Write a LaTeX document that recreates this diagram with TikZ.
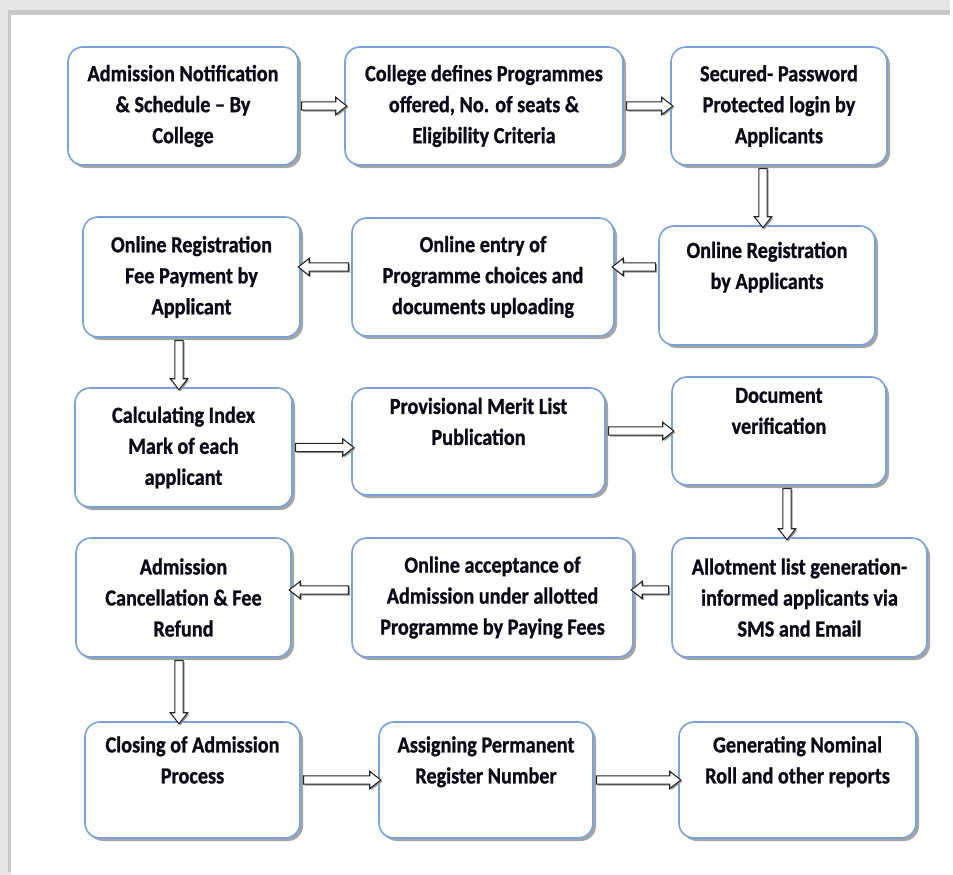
\documentclass[tikz,border=0pt]{standalone}
\usepackage{fontspec}
\setmainfont{Carlito}[FakeStretch=0.88, BoldFeatures={FakeBold=1}]
\usetikzlibrary{shapes.arrows,shadows,calc}
\definecolor{boxblue}{RGB}{122,162,214}
\definecolor{txt}{RGB}{10,10,25}
\tikzset{
  box/.style={draw=boxblue, line width=1.6pt, fill=white, rounded corners=15pt,
    align=center, inner sep=0pt, text=txt,
    font=\fontsize{23}{31}\selectfont\bfseries,
    drop shadow={shadow xshift=3pt, shadow yshift=-3pt, opacity=0.5, fill=black!70}},
  barrowsty/.style={single arrow, draw=black!85, line width=1.1pt, fill=white,
    inner xsep=0pt, inner ysep=3.6pt, single arrow head extend=4.5pt,
    single arrow tip angle=76, sloped, allow upside down, midway},
}
\newcommand\blkarrow[2]{%
  \path let \p1=(#1), \p2=(#2), \n1={veclen(\x2-\x1,\y2-\y1)} in
    ([xshift=1.5pt,yshift=-1.5pt]\p1) -- ([xshift=1.5pt,yshift=-1.5pt]\p2)
      node[barrowsty, draw=none, fill=black!40, minimum height=\n1] {}
    (\p1) -- (\p2) node[barrowsty, minimum height=\n1] {};}
\begin{document}
\begin{tikzpicture}[x=1pt,y=-1pt]
\useasboundingbox (0,0) rectangle (953,875);
\fill[white] (0,0) rectangle (953,875);
% outer frame shading
\fill[gray!20] (0,0) rectangle (950,15);
\fill[gray!20] (0,0) rectangle (11,875);
\fill[gray!42] (8,10) rectangle (950,15);
\fill[gray!42] (8,10) rectangle (11,872);

% boxes
\node[box, minimum width=230pt, minimum height=118pt] (b1) at (183,106) {Admission Notification\\\& Schedule – By\\College};
\node[box, minimum width=278pt, minimum height=118pt] (b2) at (484,106) {College defines Programmes\\offered, No. of seats \&\\Eligibility Criteria};
\node[box, minimum width=216pt, minimum height=118pt] (b3) at (779,106) {Secured- Password\\Protected login by\\Applicants};

\node[box, minimum width=217pt, minimum height=120pt] (b4) at (191.5,277) {Online Registration\\Fee Payment by\\Applicant};
\node[box, minimum width=262pt, minimum height=118pt] (b5) at (483,277) {Online entry of\\Programme choices and\\documents uploading};
\node[box, minimum width=216pt, minimum height=119pt] (b6) at (767,285.5) {Online Registration\\by Applicants\\\strut};

\node[box, minimum width=217pt, minimum height=119pt] (b7) at (183.5,447.5) {Calculating Index\\Mark of each\\applicant};
\node[box, minimum width=253pt, minimum height=107pt] (b8) at (478.5,441.5) {Provisional Merit List\\Publication\\\strut};
\node[box, minimum width=214pt, minimum height=108pt] (b9) at (779,431) {Document\\verification\\\strut};

\node[box, minimum width=215pt, minimum height=119pt] (b10) at (183.5,597.5) {Admission\\Cancellation \& Fee\\Refund};
\node[box, minimum width=281pt, minimum height=119pt] (b11) at (492.5,597.5) {Online acceptance of\\Admission under allotted\\Programme by Paying Fees};
\node[box, minimum width=255pt, minimum height=119pt] (b12) at (799.5,597.5) {Allotment list generation-\\informed applicants via\\SMS and Email};

\node[box, minimum width=215pt, minimum height=116pt] (b13) at (192.5,780) {Closing of Admission\\Process\\\strut};
\node[box, minimum width=214pt, minimum height=116pt] (b14) at (486,780) {Assigning Permanent\\Register Number\\\strut};
\node[box, minimum width=237pt, minimum height=116pt] (b15) at (797.5,780) {Generating Nominal\\Roll and other reports\\\strut};

% helper coordinates for connector ends
\coordinate (c3) at ([xshift=-4pt]b6.north);
\coordinate (c4) at ([yshift=18.5pt]b6.west);
\coordinate (c5) at ([yshift=10pt]b5.west);
\coordinate (c6) at ([xshift=-4.5pt]b7.north);
\coordinate (c9) at ([xshift=8pt]b9.south);
\coordinate (c10) at ([yshift=7.5pt]b12.west);
\coordinate (c11) at ([yshift=7.5pt]b11.west);
\coordinate (c12) at ([xshift=-4.5pt]b10.south);

% connectors
\blkarrow{b1.east}{b2.west}
\blkarrow{b2.east}{b3.west}
\blkarrow{b3.south -| c3}{c3}
\blkarrow{c4}{b5.east |- c4}
\blkarrow{c5}{b4.east |- c5}
\blkarrow{b4.south -| c6}{c6}
\blkarrow{b7.east}{b8.west |- b7.east}
\blkarrow{b8.east |- b9.west}{b9.west}
\blkarrow{c9}{b12.north -| c9}
\blkarrow{c10}{b11.east |- c10}
\blkarrow{c11}{b10.east |- c11}
\blkarrow{c12}{b13.north -| c12}
\blkarrow{b13.east}{b14.west}
\blkarrow{b14.east}{b15.west}
\end{tikzpicture}
\end{document}
